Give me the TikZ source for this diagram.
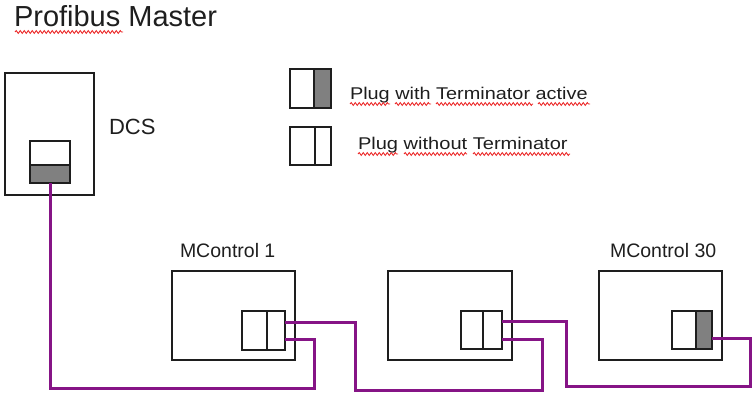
\documentclass[tikz,border=0pt]{standalone}
\usepackage{fontspec}
\setmainfont{Liberation Sans}
\usetikzlibrary{decorations.pathmorphing,calc}
\definecolor{cable}{RGB}{134,20,134}
\definecolor{plugfill}{RGB}{128,128,128}
\definecolor{squig}{RGB}{235,40,40}
\definecolor{ink}{RGB}{30,30,30}
\begin{document}
\begin{tikzpicture}[x=1pt,y=-1pt,
  box/.style={draw=ink,line width=1.8pt,fill=white,inner sep=0pt,outer sep=0pt,anchor=north west},
  termbox/.style={box,fill=plugfill},
  cablestyle/.style={draw=cable,line width=3pt,line join=miter},
  lbl/.style={inner sep=0pt,outer sep=0pt,anchor=base west,text=ink},
  squiggle/.style={draw=squig,line width=0.9pt,decorate,decoration={snake,amplitude=1.4pt,segment length=4pt}}]
\useasboundingbox (0,0) rectangle (754,395);
% title
\node[lbl,font=\fontsize{29}{32}\selectfont] (title) at (14,27) {Profibus Master};
\draw[squiggle] (15,32) -- (123,32);
% DCS
\node[box,minimum width=89pt,minimum height=122pt] (dcs) at (5,73) {};
\node[box,minimum width=40pt,minimum height=24pt] (dcsT) at (30,141) {};
\node[termbox,minimum width=40pt,minimum height=18pt] (dcsB) at (30,165) {};
\node[lbl,font=\fontsize{22}{24}\selectfont] (dcslbl) at (109,135) {DCS};
% legend
\node[box,minimum width=24pt,minimum height=39pt] (legTL) at (290,69) {};
\node[termbox,minimum width=17pt,minimum height=39pt] (legTR) at (314,69) {};
\node[box,minimum width=25pt,minimum height=38pt] (legPL) at (290,127) {};
\node[box,minimum width=16pt,minimum height=38pt] (legPR) at (315,127) {};
\node[lbl,font=\fontsize{17}{20}\selectfont] (leg1) at (350,100) {\scalebox{1.17}[1]{Plug with Terminator active}};
\node[lbl,font=\fontsize{17}{20}\selectfont] (leg2) at (358,150) {\scalebox{1.18}[1]{Plug without Terminator}};
\draw[squiggle] (350,104) -- (390,104);
\draw[squiggle] (395,104) -- (431,104);
\draw[squiggle] (436,104) -- (533,104);
\draw[squiggle] (538,104) -- (590,104);
\draw[squiggle] (358,154) -- (398,154);
\draw[squiggle] (404,154) -- (467,154);
\draw[squiggle] (473,154) -- (570,154);
% MControl 1
\node[lbl,font=\fontsize{19.5}{22}\selectfont] (mc1lbl) at (180,258) {MControl 1};
\node[box,minimum width=123pt,minimum height=89pt] (mc1) at (172,271) {};
\node[box,minimum width=25pt,minimum height=39pt] (mc1L) at (242,311) {};
\node[box,minimum width=18pt,minimum height=39pt] (mc1R) at (267,311) {};
% middle
\node[box,minimum width=124pt,minimum height=89pt] (mid) at (388,271) {};
\node[box,minimum width=22pt,minimum height=38pt] (midL) at (461,311) {};
\node[box,minimum width=19pt,minimum height=38pt] (midR) at (483,311) {};
% MControl 30
\node[lbl,font=\fontsize{19.5}{22}\selectfont] (mc30lbl) at (610,258) {MControl 30};
\node[box,minimum width=123pt,minimum height=89pt] (mc30) at (599,271) {};
\node[box,minimum width=24pt,minimum height=38pt] (mc30L) at (672,311) {};
\node[termbox,minimum width=16pt,minimum height=38pt] (mc30R) at (696,311) {};
% cable turning points
\coordinate (a1) at (314,388);
\coordinate (b1) at (355,390);
\coordinate (b2) at (542,390);
\coordinate (c1) at (566,386);
\coordinate (c2) at (750,386);
% cables
\draw[cablestyle] (dcsB.south) |- (a1) |- ([yshift=-8.5pt]mc1R.east);
\draw[cablestyle] ([yshift=8.5pt]mc1R.east) -| (b1) -- (b2) |- ([yshift=-9pt]midR.east);
\draw[cablestyle] ([yshift=9pt]midR.east) -| (c1) -- (c2) |- ([yshift=-8pt]mc30R.east);
\end{tikzpicture}
\end{document}
